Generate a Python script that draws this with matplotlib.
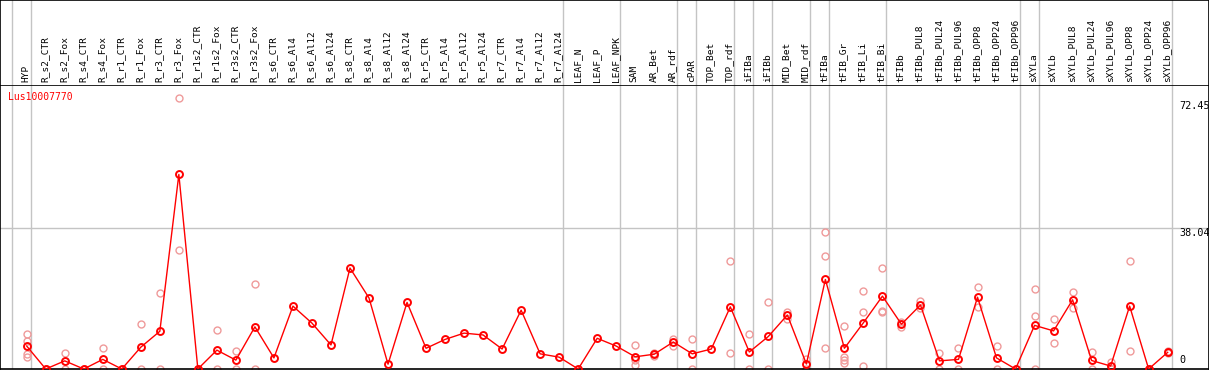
import matplotlib.pyplot as plt
import numpy as np

samples = ['HYP', 'R_s2_CTR', 'R_s2_Fox', 'R_s4_CTR', 'R_s4_Fox', 'R_r1_CTR', 'R_r1_Fox',
           'R_r3_CTR', 'R_r3_Fox', 'R_r1s2_CTR', 'R_r1s2_Fox', 'R_r3s2_CTR', 'R_r3s2_Fox',
           'R_s6_CTR', 'R_s6_Al4', 'R_s6_Al12', 'R_s6_Al24', 'R_s8_CTR', 'R_s8_Al4', 'R_s8_Al12',
           'R_s8_Al24', 'R_r5_CTR', 'R_r5_Al4', 'R_r5_Al12', 'R_r5_Al24', 'R_r7_CTR', 'R_r7_Al4',
           'R_r7_Al12', 'R_r7_Al24', 'LEAF_N', 'LEAF_P', 'LEAF_NPK', 'SAM', 'AR_Bet', 'AR_rdf',
           'cPAR', 'TOP_Bet', 'TOP_rdf', 'iFIBa', 'iFIBb', 'MID_Bet', 'MID_rdf', 'tFIBa',
           'tFIB_Gr', 'tFIB_Li', 'tFIB_Bi', 'tFIBb', 'tFIBb_PUL8', 'tFIBb_PUL24', 'tFIBb_PUL96',
           'tFIBb_OPP8', 'tFIBb_OPP24', 'tFIBb_OPP96', 'sXYLa', 'sXYLb', 'sXYLb_PUL8',
           'sXYLb_PUL24', 'sXYLb_PUL96', 'sXYLb_OPP8', 'sXYLb_OPP24', 'sXYLb_OPP96']

means = [6.2, 0, 2.2, 0, 2.6, 0, 5.9, 10.2, 52.6, 0, 5.1, 2.4, 11.4,
         3.0, 17.0, 12.4, 6.5, 27.3, 19.2, 1.3, 18.0, 5.6, 8.0, 9.7, 9.2, 5.4, 15.9,
         4.1, 3.2, 0, 8.3, 6.2, 3.3, 4.0, 7.3, 4.1, 5.4, 16.8, 4.6, 8.8, 14.6, 1.35, 24.2,
         5.6, 12.5, 19.7, 12.1, 17.3, 2.2, 2.6, 19.4, 3.0, 0, 11.8, 10.3, 18.7,
         2.3, 0.8, 17.0, 0, 4.5]

replicates = [[9.5, 7.7, 4.1, 3.3], [0, 0], [4.3, 0], [0, 0], [5.6, 0], [0, 0], [12.1, 0],
              [20.5, 0], [73.2, 32.2], [0, 0], [10.5, 0], [4.8, 0], [23.0, 0],
              [], [], [], [], [], [], [], [], [], [], [], [], [], [], [], [], [], [], [],
              [6.5, 2.4, 1.0], [4.4, 3.6], [8.1, 6.2], [8.0, 0], [], [29.2, 4.3], [9.5, 0],
              [18.0, 0], [15.5, 13.6], [2.6, 0], [37.0, 30.5, 5.6], [11.6, 3.3, 2.4, 1.7],
              [21.0, 15.5, 0.7], [27.3, 15.7, 15.5], [12.7, 11.3], [18.5, 16.4], [4.3, 0],
              [5.6, 0], [22.1, 16.7], [6.1, 0], [0, 0], [21.6, 14.2, 0], [13.4, 6.9],
              [20.7, 16.4], [4.6, 0], [1.8, 0], [29.2, 4.9], [0, 0], [5.0, 4.2]]

# group separators: index of last sample before each gray line
separators = [-1, 0, 28, 31, 34, 35, 37, 38, 39, 41, 42, 45, 52, 53, 60]

gene = 'Lus10007770'
yticks = [72.45, 38.04]

assert len(samples) == len(means) == len(replicates)

W, H = 1209, 370
x = np.arange(len(samples))
xlim = (-26.7 / 19, (1208 - 26.7) / 19)
ytop = (369 - 85) / 3.699

fig = plt.figure(figsize=(W / 100, H / 100), dpi=100)
ax = fig.add_axes([0, 1 / H, 1, 284 / H])
hax = fig.add_axes([0, 285 / H, 1, 85 / H])

grey = '#c4c4c4'
mono = 'DejaVu Sans Mono'

for a in (ax, hax):
    a.set_xlim(*xlim)
    a.set_xticks([])
    a.set_yticks([])
    for s in a.spines.values():
        s.set_color('black')
        s.set_linewidth(1.2)
    for sep in separators:
        a.axvline(sep + 0.21, color=grey, lw=1, zorder=0)

ax.set_ylim(0, ytop)
hax.set_ylim(0, 1)
hax.spines['bottom'].set_visible(False)

ax.axhline(38.04, color=grey, lw=1, zorder=0)

# replicate points
for i, reps in enumerate(replicates):
    ax.plot([i] * len(reps), reps, 'o', ms=5, mfc='none', mec='#ef9a9a', mew=1.0, zorder=2)

ax.plot(x, means, '-', color='red', lw=1, zorder=3)
ax.plot(x, means, 'o', ms=5, mfc='none', mec='red', mew=1.4, zorder=4)

ax.text(-1.0, (369 - 97) / 3.699, gene, color='red', fontsize=7, family=mono, va='center')

xl = (1178 - 26.7) / 19
for t in yticks:
    ax.text(xl, t, f'{t:.2f}', fontsize=7.3, family=mono, va='top', ha='left')
ax.text(xl, 1.0, '0', fontsize=7.3, family=mono, va='bottom', ha='left')

for i, name in enumerate(samples):
    hax.text(i - 0.05, 0.03, name, rotation=90, fontsize=6.8, family=mono,
             ha='center', va='bottom')

fig.savefig('out.png', dpi=100)
